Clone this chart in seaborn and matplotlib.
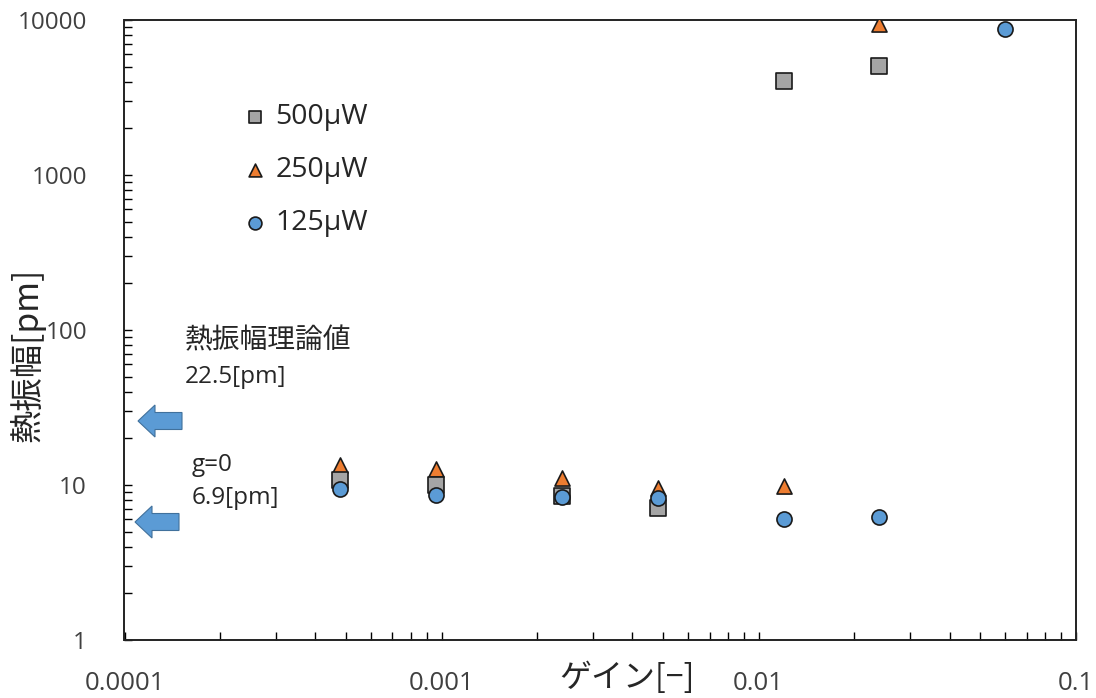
import numpy as np
import pandas as pd
import matplotlib
matplotlib.use("Agg")
import matplotlib.pyplot as plt
from matplotlib.patches import FancyArrow
from matplotlib.ticker import LogLocator, NullFormatter
import seaborn as sns

# ---- data ----
gain = [0.00048, 0.00096, 0.0024, 0.0048, 0.012, 0.024, 0.06]
amp_500 = [10.8, 10.0, 8.5, 7.1, 4040, 5050]          # 500μW (first 6 gains)
amp_250 = [13.5, 12.7, 11.1, 9.6, 9.9, 9420]          # 250μW (first 6 gains)
amp_125 = [9.4, 8.6, 8.4, 8.2, 6.0, 6.2, 8750]        # 125μW (all 7 gains)
series_labels = ["500μW", "250μW", "125μW"]

x_ticks = [0.0001, 0.001, 0.01, 0.1]
x_tick_labels = ["0.0001", "0.001", "0.01", "0.1"]
y_ticks = [1, 10, 100, 1000, 10000]
y_tick_labels = ["1", "10", "100", "1000", "10000"]

theory_text = ["熱振幅理論値", "22.5[pm]"]
g0_text = ["g=0", "6.9[pm]"]

# ---- style ----
sns.set_theme(style="ticks")
plt.rcParams["font.family"] = ["Open Sans", "Noto Sans CJK JP", "DejaVu Sans"]
CJK = ["Noto Sans CJK JP", "DejaVu Sans"]

W, H, DPI = 1096, 698, 100
fig = plt.figure(figsize=(W / DPI, H / DPI), dpi=DPI)
ax = fig.add_axes([124.5 / W, 1 - 640 / H, (1075.7 - 124.5) / W, 620 / H])

df500 = pd.DataFrame({"gain": gain[:len(amp_500)], "amp": amp_500})
df250 = pd.DataFrame({"gain": gain[:len(amp_250)], "amp": amp_250})
df125 = pd.DataFrame({"gain": gain[:len(amp_125)], "amp": amp_125})

common = dict(edgecolor="#1a1a1a", linewidth=1.2, s=118, zorder=3)
sns.scatterplot(data=df250, x="gain", y="amp", ax=ax, marker="^",
                color="#ED7D31", label=series_labels[1], **common)
sns.scatterplot(data=df500, x="gain", y="amp", ax=ax, marker="s",
                color="#A5A5A5", label=series_labels[0], **common)
sns.scatterplot(data=df125, x="gain", y="amp", ax=ax, marker="o",
                color="#5B9BD5", label=series_labels[2], **common)

ax.set_xscale("log")
ax.set_yscale("log")
ax.set_xlim(0.0001, 0.1)
ax.set_ylim(1, 10000)

ax.set_xticks(x_ticks)
ax.set_xticklabels(x_tick_labels)
ax.set_yticks(y_ticks)
ax.set_yticklabels(y_tick_labels)
ax.xaxis.set_minor_locator(LogLocator(base=10, subs=np.arange(2, 10)))
ax.yaxis.set_minor_locator(LogLocator(base=10, subs=np.arange(2, 10)))
ax.xaxis.set_minor_formatter(NullFormatter())
ax.yaxis.set_minor_formatter(NullFormatter())

ax.tick_params(axis="both", which="both", direction="in", length=6,
               width=1, color="black", top=False, right=False)
ax.tick_params(axis="x", which="major", labelsize=18.5, pad=22,
               labelcolor="#404040")
ax.tick_params(axis="y", which="major", labelsize=17.5, pad=27,
               labelcolor="#404040")
for sp in ax.spines.values():
    sp.set_visible(True)
    sp.set_color("#222222")
    sp.set_linewidth(1.4)
ax.grid(False)

ax.set_xlabel("ゲイン[−]", fontsize=23, color="#262626", family=CJK)
ax.xaxis.set_label_coords((627 - 124.5) / 951.2, (640 - 662) / 620)
ax.set_ylabel("熱振幅[pm]", fontsize=24, color="#262626", family=CJK)
ax.yaxis.set_label_coords((46 - 124.5) / 951.2, (640 - 355) / 620)

# legend: order 500, 250, 125
handles, labels = ax.get_legend_handles_labels()
order = [labels.index(l) for l in series_labels]
leg = ax.legend([handles[i] for i in order], [labels[i] for i in order],
                loc="upper left",
                bbox_to_anchor=((241 - 124.5) / 951.2, (640 - 103) / 620),
                frameon=False, fontsize=20.5, handlelength=1.0,
                handletextpad=0.2, labelspacing=0.88, borderpad=0,
                borderaxespad=0, markerscale=0.85)
for t in leg.get_texts():
    t.set_color("#262626")

# annotations (pixel positions from reference)
def px(x, y):
    return (x - 124.5) / 951.2, (640 - y) / 620

ax.text(*px(185, 340), theory_text[0], transform=ax.transAxes, fontsize=20,
        va="center", ha="left", color="#262626", family=CJK)
ax.text(*px(185, 377), theory_text[1], transform=ax.transAxes, fontsize=17.5,
        va="center", ha="left", color="#262626")
ax.text(*px(192, 465), g0_text[0], transform=ax.transAxes, fontsize=17.5,
        va="center", ha="left", color="#262626")
ax.text(*px(192, 498), g0_text[1], transform=ax.transAxes, fontsize=17.5,
        va="center", ha="left", color="#262626")

# block arrows pointing to the axis
for (x_tail, x_tip, yc) in [(182, 138, 421), (179, 135, 522)]:
    arr = FancyArrow(x_tail / DPI, (H - yc) / DPI, (x_tip - x_tail) / DPI, 0,
                     width=17 / DPI, head_width=32 / DPI, head_length=17 / DPI,
                     length_includes_head=True, transform=fig.dpi_scale_trans,
                     facecolor="#5B9BD5", edgecolor="#41719C", linewidth=0.8,
                     zorder=5)
    fig.patches.append(arr)

fig.savefig("out.png", dpi=DPI)
